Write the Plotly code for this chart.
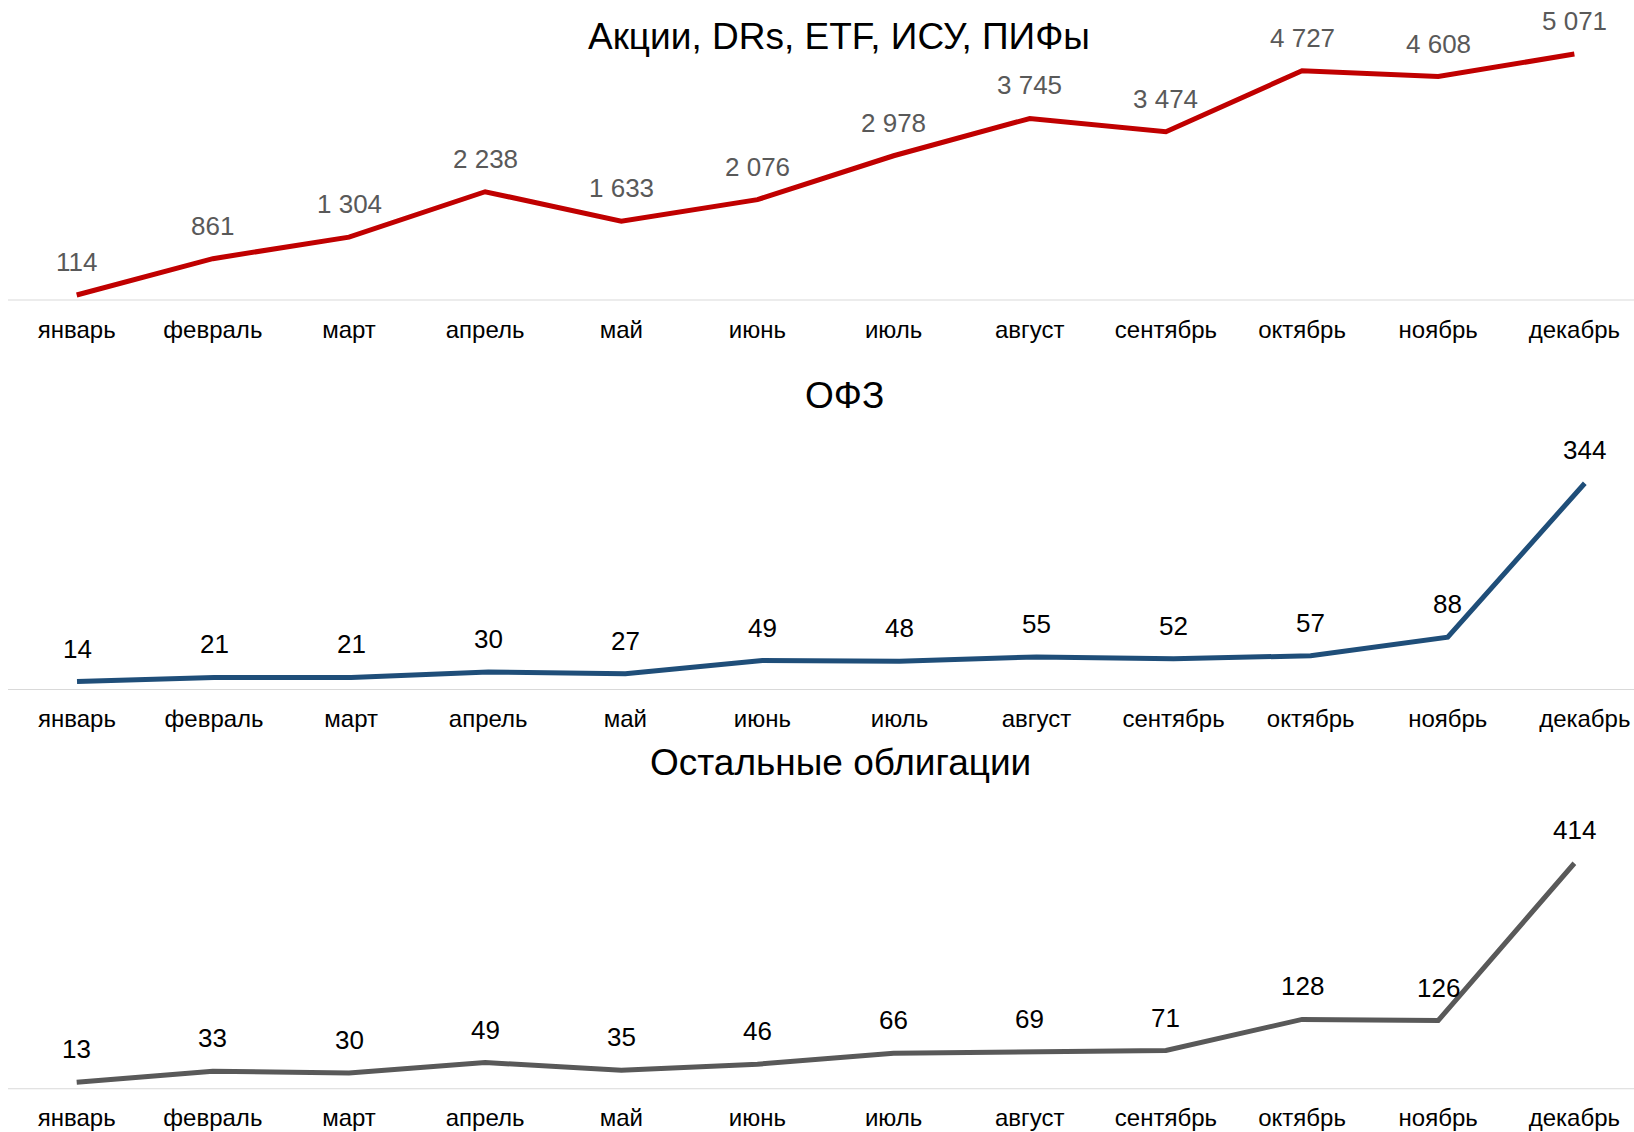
import plotly.graph_objects as go

months = ["январь", "февраль", "март", "апрель", "май", "июнь",
          "июль", "август", "сентябрь", "октябрь", "ноябрь", "декабрь"]

titles = ["Акции, DRs, ETF, ИСУ, ПИФы", "ОФЗ", "Остальные облигации"]

stocks = [114, 861, 1304, 2238, 1633, 2076, 2978, 3745, 3474, 4727, 4608, 5071]
ofz = [14, 21, 21, 30, 27, 49, 48, 55, 52, 57, 88, 344]
other_bonds = [13, 33, 30, 49, 35, 46, 66, 69, 71, 128, 126, 414]

series = [stocks, ofz, other_bonds]
line_colors = ["#C00000", "#1F4E79", "#595959"]
label_colors = ["#595959", "#000000", "#000000"]

W, H = 1634, 1132
FONT = "Liberation Sans, Arial, sans-serif"

# pixel geometry (top-left origin)
zero_px = [300.5, 690.0, 1089.3]
top_px = [8.9, 449.6, 843.6]
y_max = [6000, 400, 450]
x_ranges = [[-0.5633, 11.438], [-0.5618, 11.359], [-0.5633, 11.438]]
title_pos = [(839, 36), (845, 395), (840, 762)]

fig = go.Figure()
annotations = []
shapes = []

for i in range(3):
    sfx = "" if i == 0 else str(i + 1)
    xa = "x" + sfx
    ya = "y" + sfx
    fig.add_trace(go.Scatter(
        x=months, y=series[i], mode="lines",
        line=dict(color=line_colors[i], width=5),
        xaxis=xa, yaxis=ya, showlegend=False, hoverinfo="x+y",
    ))
    dom = [1 - zero_px[i] / H, 1 - top_px[i] / H]
    fig.layout["xaxis" + sfx] = dict(
        domain=[0, 1], range=x_ranges[i], anchor=ya,
        type="category", categoryorder="array", categoryarray=months,
        showgrid=False, zeroline=False, showline=False, ticks="",
        tickfont=dict(family=FONT, size=24, color="#000000"),
        ticklabelstandoff=12,
    )
    fig.layout["yaxis" + sfx] = dict(
        domain=dom, range=[0, y_max[i]], anchor=xa,
        showgrid=False, zeroline=False, showline=False,
        showticklabels=False, ticks="",
    )
    shapes.append(dict(
        type="line", xref="paper", yref=ya, x0=8 / W, x1=1, y0=0, y1=0,
        line=dict(color="#D9D9D9", width=2), layer="below",
    ))
    for m, v in zip(months, series[i]):
        annotations.append(dict(
            x=m, y=v, xref=xa, yref=ya, text=f"{v:,}".replace(",", " "),
            showarrow=False, yshift=33, xanchor="center", yanchor="middle",
            font=dict(family=FONT, size=26, color=label_colors[i]),
        ))
    tx, ty = title_pos[i]
    annotations.append(dict(
        x=tx / W, y=1 - ty / H, xref="paper", yref="paper", text=titles[i],
        showarrow=False, xanchor="center", yanchor="middle",
        font=dict(family=FONT, size=37, color="#000000"),
    ))

fig.update_layout(
    width=W, height=H,
    margin=dict(l=0, r=0, t=0, b=0),
    paper_bgcolor="white", plot_bgcolor="white",
    annotations=annotations, shapes=shapes,
    font=dict(family=FONT),
)

fig.write_html(
    "out.html",
    config={"displayModeBar": False},
    post_script="document.body.style.margin='0';document.body.style.overflow='hidden';",
)
